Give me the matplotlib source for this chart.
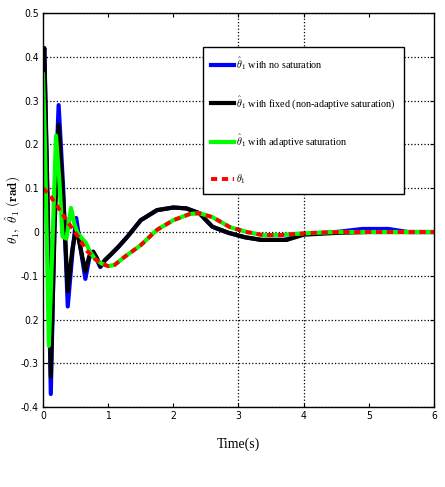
import numpy as np
import matplotlib
matplotlib.use("Agg")
import matplotlib.pyplot as plt

plt.rcParams['mathtext.fontset'] = 'cm'

# time samples and values
t_blue = [0, 0.02, 0.07, 0.12, 0.18, 0.24, 0.31, 0.38, 0.45, 0.51, 0.58, 0.65,
          0.71, 0.77, 0.83, 0.88, 0.95, 1.05, 1.15, 1.3, 1.5, 1.75, 2.0, 2.2,
          2.4, 2.6, 2.85, 3.1, 3.35, 3.7, 4.0, 4.5, 4.9, 5.3, 5.6, 6.0]
y_blue = [0.38, 0.42, 0.05, -0.37, 0.05, 0.29, 0.10, -0.17, -0.05, 0.032, -0.04, -0.107,
          -0.06, -0.045, -0.065, -0.08, -0.065, -0.05, -0.035, -0.01, 0.027, 0.05, 0.056, 0.054,
          0.043, 0.012, -0.002, -0.012, -0.018, -0.018, -0.005, 0.0, 0.007, 0.007, 0.0, 0.0]

t_black = [0, 0.02, 0.07, 0.12, 0.18, 0.24, 0.31, 0.38, 0.45, 0.51, 0.58, 0.65,
           0.71, 0.77, 0.83, 0.88, 0.95, 1.05, 1.15, 1.3, 1.5, 1.75, 2.0, 2.2,
           2.4, 2.6, 2.85, 3.1, 3.35, 3.74, 4.0, 4.5, 5.0, 6.0]
y_black = [0.40, 0.42, 0.08, -0.33, 0.02, 0.245, 0.08, -0.135, -0.04, 0.01, -0.04, -0.09,
           -0.055, -0.045, -0.06, -0.078, -0.064, -0.05, -0.035, -0.01, 0.027, 0.05, 0.056, 0.054,
           0.043, 0.012, -0.002, -0.012, -0.018, -0.018, -0.006, -0.002, 0.0, 0.0]

t_green = [0, 0.03, 0.09, 0.14, 0.2, 0.25, 0.3, 0.36, 0.43, 0.48, 0.53, 0.6,
           0.66, 0.72, 0.8, 0.9, 1.0, 1.1, 1.25, 1.5, 1.75, 2.0, 2.25, 2.4,
           2.6, 2.87, 3.13, 3.37, 3.64, 3.9, 4.14, 4.5, 5.0, 6.0]
y_green = [0.36, 0.2, -0.26, -0.05, 0.22, 0.12, -0.01, -0.015, 0.055, 0.02, -0.002, -0.015,
           -0.025, -0.045, -0.062, -0.072, -0.078, -0.075, -0.057, -0.03, 0.005, 0.027, 0.041, 0.043,
           0.034, 0.011, 0.0, -0.007, -0.007, -0.004, -0.002, 0.0, 0.0, 0.0]

t_ref = [0, 0.1, 0.23, 0.38, 0.54, 0.66, 0.8, 0.9, 1.0, 1.1, 1.25, 1.5, 1.75,
         2.0, 2.25, 2.4, 2.6, 2.87, 3.13, 3.37, 3.64, 3.9, 4.14, 4.5, 5.0, 6.0]
y_ref = [0.1, 0.085, 0.057, 0.023, -0.011, -0.041, -0.062, -0.072, -0.078, -0.075, -0.057, -0.03, 0.005,
         0.027, 0.041, 0.043, 0.034, 0.011, 0.0, -0.007, -0.007, -0.004, -0.002, 0.0, 0.0, 0.0]

labels = [r"$\hat{\theta}_1$ with no saturation",
          r"$\hat{\theta}_1$ with fixed (non-adaptive saturation)",
          r"$\hat{\theta}_1$ with adaptive saturation",
          r"$\theta_1$"]

fig = plt.figure(figsize=(4.45, 4.87), dpi=100)
ax = fig.add_axes([0.0966, 0.164, 0.8787, 0.809])

ax.plot(t_blue, y_blue, color=(0, 0, 1), lw=3, label=labels[0])
ax.plot(t_black, y_black, color='black', lw=3, label=labels[1])
ax.plot(t_green, y_green, color=(0, 1, 0), lw=3, label=labels[2])
ax.plot(t_ref, y_ref, color=(1, 0, 0), lw=2.8, ls=(0, (1.6, 1.2)), label=labels[3])

ax.set_xlim(0, 6)
ax.set_ylim(-0.4, 0.5)
ax.set_xticks(range(0, 7))
ax.set_yticks(np.round(np.arange(-0.4, 0.51, 0.1), 1))
ax.set_yticklabels(['-0.4', '-0.3', '0.2', '-0.1', '0', '0.1', '0.2', '0.3', '0.4', '0.5'])
ax.tick_params(direction='in', top=True, right=True, labelsize=7.5, length=3, pad=3)
for lab in ax.get_xticklabels() + ax.get_yticklabels():
    lab.set_fontstretch('condensed')

ax.grid(axis='y', ls=':', color='black', lw=0.9)
for xv in [3, 4]:
    ax.axvline(xv, ls=':', color='black', lw=0.9)
for sp in ax.spines.values():
    sp.set_linewidth(1.0)

ax.set_xlabel("Time(s)", family='Liberation Serif', fontsize=10, labelpad=12)
ax.set_ylabel(r"$\theta_1,\ \hat{\theta}_1\ \mathbf{(rad)}$", fontsize=9.5)
ax.yaxis.set_label_coords(-0.052, 0.5)

leg = ax.legend(loc='upper left', bbox_to_anchor=(0.409, 0.914),
                prop={'family': 'Liberation Serif', 'size': 7.3},
                handlelength=2.3, handletextpad=0.2, labelspacing=2.2,
                borderpad=0.8, fancybox=False, framealpha=1, borderaxespad=0)
leg.get_frame().set_edgecolor('black')
leg.get_frame().set_linewidth(1.0)

fig.savefig("out.png", dpi=100)
